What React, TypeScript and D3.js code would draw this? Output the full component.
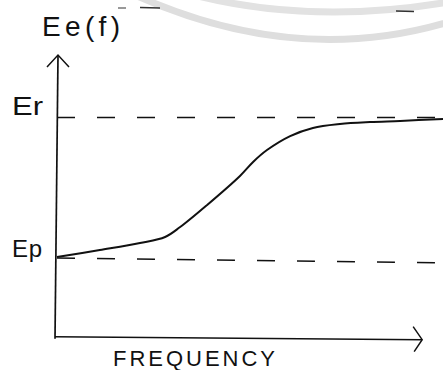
import * as d3 from 'd3';

// frequency (arbitrary units, 0..100) and normalised Ee(f): 0 = Ep, 1 = Er
const freq = [0, 11.1, 21.5, 28, 31.9, 38.9, 47.4, 50.8, 54.4, 60.4, 66.3, 73.3, 81.1, 88.9, 100];
const ee = [0.007, 0.057, 0.107, 0.15, 0.221, 0.379, 0.586, 0.686, 0.771, 0.871, 0.929, 0.957, 0.971, 0.979, 0.993];

const levelLabels = ['Er', 'Ep'];
const levelValues = [1, 0];
const yTitle = 'Ee(f)';
const xTitle = 'FREQUENCY';

const W = 443;
const H = 370;

export default function App() {
  const x = d3.scaleLinear().domain([0, 100]).range([57, 443]);
  const y = d3.scaleLinear().domain([0, 1]).range([258, 118]);

  const x0 = x(0);
  const yBase = y(-0.562);
  const yTop = y(1.45);
  const xEnd = x(94.6);

  const pts: [number, number][] = freq.map((f, i) => [f, ee[i]]);
  const line = d3
    .line<[number, number]>()
    .x((d) => x(d[0]))
    .y((d) => y(d[1]))
    .curve(d3.curveCatmullRom.alpha(0.5));

  const font = { fontFamily: 'Liberation Sans', fill: '#111' };
  const ink = '#111';

  return (
    <svg
      width={W}
      height={H}
      viewBox={`0 0 ${W} ${H}`}
      style={{ position: 'absolute', left: 0, top: 0, background: '#fff' }}
    >
      {/* faint scan watermark arcs */}
      <path d="M 120 -12 Q 300 75 470 15" fill="none" stroke="#dedede" strokeWidth={7} />
      <path d="M 190 -6 Q 320 28 470 -2" fill="none" stroke="#e2e2e2" strokeWidth={7} />
      {/* scan specks */}
      <line x1={118} x2={126} y1={8} y2={8} stroke="#555" strokeWidth={1.2} />
      <line x1={140} x2={160} y1={7.5} y2={8} stroke="#333" strokeWidth={1.5} />
      <line x1={396} x2={414} y1={11} y2={11.5} stroke="#333" strokeWidth={1.5} />

      {/* reference levels */}
      <line x1={x0} x2={W} y1={y(levelValues[0]) - 0.5} y2={y(levelValues[0]) - 0.5} stroke={ink} strokeWidth={1.6} strokeDasharray="18 22" />
      <line x1={x0} x2={W} y1={y(levelValues[1])} y2={y(-0.035)} stroke={ink} strokeWidth={1.6} strokeDasharray="18 22" />

      {/* axes */}
      <line x1={x0 + 1} x2={x0 - 2} y1={yTop} y2={yBase + 2} stroke={ink} strokeWidth={1.7} />
      <path d={`M ${x0 - 10} ${yTop + 12} L ${x0 + 1} ${yTop} L ${x0 + 12} ${yTop + 12}`} fill="none" stroke={ink} strokeWidth={1.5} />
      <line x1={x0 - 2} x2={xEnd} y1={yBase} y2={yBase + 3} stroke={ink} strokeWidth={1.6} />
      <path d={`M ${xEnd - 9} ${yBase - 10} L ${xEnd} ${yBase + 3} L ${xEnd - 8} ${yBase + 15}`} fill="none" stroke={ink} strokeWidth={1.5} />

      {/* curve */}
      <path d={line(pts) ?? ''} fill="none" stroke={ink} strokeWidth={2} />

      {/* labels */}
      <text x={42} y={36} fontSize={28} textLength={78} lengthAdjust="spacing" {...font}>
        {yTitle}
      </text>
      <text x={12} y={y(levelValues[0]) - 3} fontSize={26} textLength={31} lengthAdjust="spacingAndGlyphs" {...font}>
        {levelLabels[0]}
      </text>
      <text x={12} y={y(levelValues[1]) - 1} fontSize={24} textLength={30} lengthAdjust="spacing" {...font}>
        {levelLabels[1]}
      </text>
      <text x={113} y={366} fontSize={22} textLength={162} lengthAdjust="spacing" {...font}>
        {xTitle}
      </text>
    </svg>
  );
}
